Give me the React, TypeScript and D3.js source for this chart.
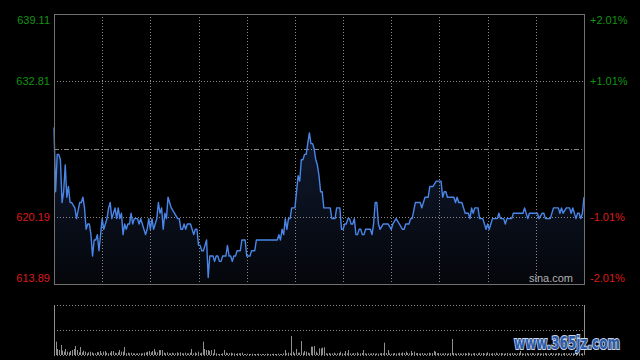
import React from "react";
import * as d3 from "d3";

// ---- data ----
const minutes: number[] = [
  0,1,2,3,4,5,6,7,8,9,10,11,13,14,16,17,18,19,20,21,22,23,24,25,26,27,28,29,30,31,32,33,34,35,36,38,39,40,41,42,43,44,45,46,47,48,49,50,52,53,54,55,56,57,58,59,60,61,62,63,64,65,66,67,68,69,70,71,72,73,75,77,78,79,80,81,82,83,85,86,87,88,89,90,91,92,93,94,95,96,97,98,99,100,101,102,103,104,105,107,108,109,110,111,112,113,114,116,117,119,120,122,123,125,126,139,140,141,142,143,144,145,146,147,148,149,150,151,152,153,154,155,156,157,158,159,160,161,162,163,164,165,166,167,168,170,172,173,175,176,178,179,180,181,182,183,184,185,186,187,188,189,190,191,192,193,194,197,198,199,200,201,202,203,205,208,210,211,213,215,217,218,219,221,222,223,225,228,229,231,233,234,236,238,241,242,243,244,245,249,250,251,252,254,255,256,258,259,260,261,262,264,265,267,268,269,270,271,273,276,277,278,280,281,282,285,286,292,293,295,296,301,302,304,305,306,309,310,311,314,315,316,317,319,321,322,323,325,326,327,328,329,330
];
const prices: number[] = [
  628.5,622.5,626,626,625.5,621.5,622.5,625,622,623,621.5,621.5,621,620,621.5,621.5,622,621,619,619.5,619.5,618.5,616.5,618,618,618.5,617,618.5,620,619,619.5,620,621,621.5,620,621,620,621,620,620.5,618.5,619.5,619,619.5,619.5,620.5,619.5,620,620,619.5,620,619.5,619,618.5,619,620,619,620,619,619.5,620,621.5,620.5,621,619,620.5,620,622,621.5,621,620.5,620,620,619,619,619.5,619,619.5,619.5,619,618.5,619,619,617.5,617.5,617,617,617.5,618,614.5,616.5,616.5,616.5,616,616.5,616.5,616,616,616.5,616.5,617.5,616.5,616.5,616,616.5,616.5,617,617,618,618,616.5,616.5,617,617,618,618,618.5,618,619,618.5,620,619,620,620,621,621,621,622.5,624,623.5,625.5,625.5,626,626,627,628,627,627,626.5,625.5,625,624,622.5,622.5,621,621,621,620,620,621,621,619,619,619.5,619.5,620,620,619.5,619.5,620,618.5,618.5,619,619,618.5,618.5,619,619,618.5,619.5,621.5,621.5,619.5,619,619.5,619.5,619,619.5,620,619.5,619,619,619.5,619.5,620,620,621.5,621.5,621,622,622,623,623,623.5,623.5,622,622.5,622.5,622,622,621.5,622,621.5,621.5,621,620.5,620.5,620,621,620.5,621,621,620,620,619.5,619,619.5,619,620,620,620.5,620,620,619.5,620,620,620.5,620.5,621,620,620.5,620.5,620,620.5,620.5,620,620,620.5,621,621,620.5,621,620.5,621,621,620.5,621,620,620.5,620.5,620,620.5,622
];
const volumes: number[] = [
  150,40,18,15,30,13,10,18,10,8,12,15,18,27,15,8,24,8,13,10,5,8,10,8,5,5,9,8,12,5,10,12,7,5,7,12,12,7,5,8,15,10,10,24,5,7,5,7,5,5,4,5,5,5,5,7,8,10,12,8,12,18,10,8,15,15,15,7,5,8,5,5,7,5,5,8,5,8,5,5,7,5,5,7,18,5,8,5,10,5,7,40,18,15,15,12,15,5,17,5,3,3,3,5,15,7,5,5,7,5,5,3,5,5,5,7,3,3,4,3,3,4,3,3,3,4,3,3,3,3,4,3,3,3,4,3,3,4,3,3,5,15,5,7,5,57,10,5,18,7,7,42,7,12,10,7,5,25,25,27,10,5,20,20,22,23,
  5,4,6,4,5,7,4,5,6,10,5,4,12,5,15,5,4,6,5,8,4,5,6,15,5,4,5,4,5,6,4,5,4,5,6,5,37,6,15,5,4,5,6,4,5,7,5,8,6,10,6,5,12,6,10,5,6,4,5,6,5,4,5,7,5,6,12,10,5,6,5,4,5,6,4,5,6,48,6,5,4,6,5,4,5,6,4,7,5,4,5,6,4,5,7,5,6,4,5,8,5,4,6,5,7,4,5,6,5,4,5,6,4,5,6,5,4,5,6,12,5,4,5,6,4,5,6,5,4,5,6,5,4,5,6,5,4,5,6,5,4,5,6,5,4,5,6,5,4,5,6,5,4,5,6,5,4,5,150
];
const priceTicks: number[] = [639.11, 632.81, 620.19, 613.89];
const pctTicks: string[] = ["+2.01%", "+1.01%", "-1.01%", "-2.01%"];
const prevClose = 626.5;
const totalMinutes = 330;

export default function App() {
  const W = 640, H = 360;
  const L = 54, R = 584, T = 14, B = 284;
  const vT = 305, vB = 355;
  const x = d3.scaleLinear().domain([0, totalMinutes]).range([L, R]);
  const xv = d3.scaleLinear().domain([0, volumes.length - 1]).range([L, R]);
  const y = d3.scaleLinear().domain([613.89, 639.11]).range([B, T]);
  const vy = d3.scaleLinear().domain([0, 150]).range([vB, vT]);
  const pts = minutes.map((m, i) => [m, prices[i]] as [number, number]);
  const line = d3.line<[number, number]>().x(d => x(d[0])).y(d => y(d[1]))(pts) || "";
  const area = d3.area<[number, number]>().x(d => x(d[0])).y0(B).y1(d => y(d[1]))(pts) || "";
  const vLines = d3.range(1, 11).map(i => x(i * 30));
  const labelY = (i: number) => [24, y(priceTicks[1]) + 4, y(priceTicks[2]) + 4, 282][i];
  const labelColor = (i: number) => (i < 2 ? "#139313" : "#dd1a1a");
  const font = "'Liberation Sans', Arial, sans-serif";
  return (
    <svg width={W} height={H} style={{ position: "absolute", left: 0, top: 0, background: "#000" }}>
      <rect x={0} y={0} width={W} height={H} fill="#000" />
      <defs>
        <linearGradient id="fillg" x1="0" y1="0" x2="0" y2="1">
          <stop offset="0" stopColor="#101a30" />
          <stop offset="1" stopColor="#04060a" />
        </linearGradient>
      </defs>
      <path d={area} fill="url(#fillg)" />
      {vLines.map((vx, i) => (
        <line key={i} x1={Math.round(vx) + 0.5} x2={Math.round(vx) + 0.5} y1={T} y2={B} stroke="#8a8a8a" strokeDasharray="1,2" />
      ))}
      {[priceTicks[1], priceTicks[2]].map((p, i) => (
        <line key={i} x1={L} x2={R} y1={Math.round(y(p)) + 0.5} y2={Math.round(y(p)) + 0.5} stroke="#8a8a8a" strokeDasharray="1,2" />
      ))}
      <line x1={L} x2={R} y1={Math.round(y(prevClose)) + 0.5} y2={Math.round(y(prevClose)) + 0.5} stroke="#8a8a8a" strokeDasharray="5,2,1,2" />
      <path d={line} fill="none" stroke="#4a86e8" strokeWidth={1.4} strokeLinejoin="round" />
      <rect x={L + 0.5} y={T + 0.5} width={R - L} height={B - T} fill="none" stroke="#707070" />
      {priceTicks.map((p, i) => (
        <text key={"l" + i} x={50} y={labelY(i)} textAnchor="end" fontFamily={font} fontSize={11} fill={labelColor(i)}>{p.toFixed(2)}</text>
      ))}
      {pctTicks.map((t, i) => (
        <text key={"r" + i} x={590} y={labelY(i)} textAnchor="start" fontFamily={font} fontSize={11} fill={labelColor(i)}>{t}</text>
      ))}
      <text x={573} y={282} textAnchor="end" fontFamily={font} fontSize={11} fill="#b0b0b0">sina.com</text>
      {/* volume panel */}
      {[vT, (vT + vB) / 2, vB].map((vyy, i) => (
        <line key={"vg" + i} x1={L} x2={R} y1={Math.round(vyy) + 0.5} y2={Math.round(vyy) + 0.5} stroke="#8a8a8a" strokeDasharray="1,2" />
      ))}
      {volumes.map((v, i) => (
        <line key={"v" + i} x1={Math.round(xv(i)) + 0.5} x2={Math.round(xv(i)) + 0.5} y1={vB} y2={vy(v)} stroke="#8f8f8f" strokeWidth={1} />
      ))}
      <text x={514} y={349} textLength={106} lengthAdjust="spacingAndGlyphs" fontFamily="'DejaVu Sans', sans-serif" fontWeight="bold" fontSize={17} fill="#2a5aa8" stroke="#c9d6ea" strokeWidth={2} paintOrder="stroke">www.365jz.com</text>
    </svg>
  );
}
